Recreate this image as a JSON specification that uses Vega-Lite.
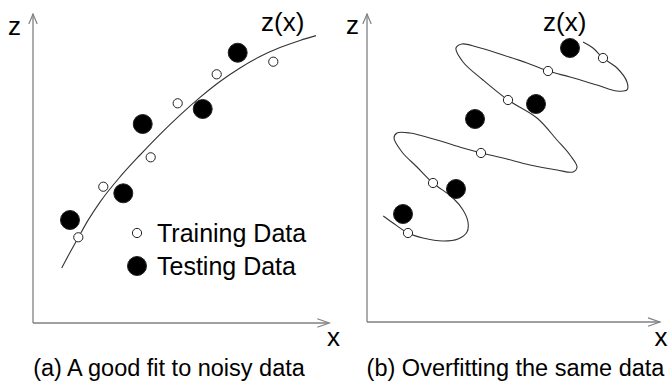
{
  "$schema": "https://vega.github.io/schema/vega-lite/v6.json",
  "background": "white",
  "padding": 0,
  "spacing": 0,
  "bounds": "flush",
  "config": {"view": {"stroke": null}},
  "datasets": {
    "axesA": [{"x": 0, "z": 0, "x2": 9.83, "z2": 0}, {"x": 0, "z": 0, "x2": 0, "z2": 10.3}],
    "arrowsA": [{"x": 9.677, "z": 0, "dir": "right"}, {"x": 0, "z": 10.133, "dir": "up"}],
    "curveA": [
      {"i": 0, "x": 0.957, "z": 1.833}, {"i": 1, "x": 1.233, "z": 2.35}, {"i": 2, "x": 1.5, "z": 2.83},
      {"i": 3, "x": 1.833, "z": 3.42}, {"i": 4, "x": 2.233, "z": 4.03}, {"i": 5, "x": 2.9, "z": 4.87},
      {"i": 6, "x": 3.567, "z": 5.6}, {"i": 7, "x": 4.233, "z": 6.29}, {"i": 8, "x": 4.9, "z": 6.93},
      {"i": 9, "x": 5.567, "z": 7.52}, {"i": 10, "x": 6.233, "z": 8.05}, {"i": 11, "x": 6.9, "z": 8.5},
      {"i": 12, "x": 7.567, "z": 8.88}, {"i": 13, "x": 8.233, "z": 9.18}, {"i": 14, "x": 8.9, "z": 9.42},
      {"i": 15, "x": 9.433, "z": 9.58}
    ],
    "pointsA": [
      {"x": 1.51, "z": 2.857, "kind": "Training Data"}, {"x": 2.343, "z": 4.543, "kind": "Training Data"},
      {"x": 3.923, "z": 5.523, "kind": "Training Data"}, {"x": 4.823, "z": 7.323, "kind": "Training Data"},
      {"x": 6.123, "z": 8.29, "kind": "Training Data"}, {"x": 8.01, "z": 8.71, "kind": "Training Data"},
      {"x": 1.233, "z": 3.433, "kind": "Testing Data"}, {"x": 3.01, "z": 4.323, "kind": "Testing Data"},
      {"x": 3.657, "z": 6.633, "kind": "Testing Data"}, {"x": 5.657, "z": 7.133, "kind": "Testing Data"},
      {"x": 6.823, "z": 9.01, "kind": "Testing Data"}
    ],
    "legendA": [
      {"x": 3.467, "z": 3.0, "kind": "Training Data"},
      {"x": 3.467, "z": 1.9, "kind": "Testing Data"}
    ],
    "labelsA": [
      {"x": -0.83, "z": 9.6, "label": "z"},
      {"x": 7.6, "z": 9.717, "label": "z(x)"},
      {"x": 9.8, "z": -0.767, "label": "x"}
    ],
    "captionA": [{"x": 4.533, "z": -1.767, "label": "(a) A good fit to noisy data"}],
    "axesB": [{"x": -0.033, "z": 0.033, "x2": 9.733, "z2": 0.033}, {"x": -0.033, "z": 0.033, "x2": -0.033, "z2": 10.3}],
    "arrowsB": [{"x": 9.533, "z": 0.033, "dir": "right"}, {"x": -0.033, "z": 10.133, "dir": "up"}],
    "curveB": [
      {"i": 0, "x": 0.51, "z": 3.567}, {"i": 1, "x": 0.833, "z": 3.333}, {"i": 2, "x": 1.333, "z": 3.0},
      {"i": 3, "x": 1.833, "z": 2.833}, {"i": 4, "x": 2.5, "z": 2.733}, {"i": 5, "x": 3.0, "z": 2.8},
      {"i": 6, "x": 3.3, "z": 3.033}, {"i": 7, "x": 3.333, "z": 3.367}, {"i": 8, "x": 3.167, "z": 3.767},
      {"i": 9, "x": 2.833, "z": 4.167}, {"i": 10, "x": 2.167, "z": 4.667}, {"i": 11, "x": 1.633, "z": 5.2},
      {"i": 12, "x": 1.133, "z": 5.7}, {"i": 13, "x": 0.867, "z": 6.167}, {"i": 14, "x": 0.967, "z": 6.333},
      {"i": 15, "x": 1.4, "z": 6.333}, {"i": 16, "x": 2.3, "z": 6.1}, {"i": 17, "x": 3.167, "z": 5.833},
      {"i": 18, "x": 3.767, "z": 5.667}, {"i": 19, "x": 4.5, "z": 5.5}, {"i": 20, "x": 5.4, "z": 5.267},
      {"i": 21, "x": 6.3, "z": 5.1}, {"i": 22, "x": 6.833, "z": 5.033}, {"i": 23, "x": 6.967, "z": 5.2},
      {"i": 24, "x": 6.733, "z": 5.6}, {"i": 25, "x": 6.3, "z": 6.1}, {"i": 26, "x": 5.633, "z": 6.833},
      {"i": 27, "x": 4.667, "z": 7.433}, {"i": 28, "x": 3.833, "z": 8.1}, {"i": 29, "x": 3.167, "z": 8.7},
      {"i": 30, "x": 2.933, "z": 9.167}, {"i": 31, "x": 3.133, "z": 9.3}, {"i": 32, "x": 3.633, "z": 9.2},
      {"i": 33, "x": 4.5, "z": 8.933}, {"i": 34, "x": 5.3, "z": 8.667}, {"i": 35, "x": 6.0, "z": 8.4},
      {"i": 36, "x": 6.733, "z": 8.2}, {"i": 37, "x": 7.633, "z": 7.933}, {"i": 38, "x": 8.3, "z": 7.733},
      {"i": 39, "x": 8.633, "z": 7.767}, {"i": 40, "x": 8.633, "z": 8.033}, {"i": 41, "x": 8.3, "z": 8.5},
      {"i": 42, "x": 7.833, "z": 8.833}, {"i": 43, "x": 7.5, "z": 9.167}, {"i": 44, "x": 7.167, "z": 9.367}
    ],
    "pointsB": [
      {"x": 1.333, "z": 3.0, "kind": "Training Data"}, {"x": 2.167, "z": 4.667, "kind": "Training Data"},
      {"x": 3.767, "z": 5.667, "kind": "Training Data"}, {"x": 4.667, "z": 7.433, "kind": "Training Data"},
      {"x": 6.0, "z": 8.4, "kind": "Training Data"}, {"x": 7.833, "z": 8.833, "kind": "Training Data"},
      {"x": 1.167, "z": 3.633, "kind": "Testing Data"}, {"x": 2.933, "z": 4.467, "kind": "Testing Data"},
      {"x": 3.567, "z": 6.8, "kind": "Testing Data"}, {"x": 5.6, "z": 7.3, "kind": "Testing Data"},
      {"x": 6.733, "z": 9.167, "kind": "Testing Data"}
    ],
    "labelsB": [
      {"x": -0.73, "z": 9.633, "label": "z"},
      {"x": 5.833, "z": 9.733, "label": "z(x)"},
      {"x": 9.55, "z": -0.767, "label": "x"}
    ],
    "captionB": [{"x": 4.917, "z": -1.767, "label": "(b) Overfitting the same data"}]
  },
  "hconcat": [
    {
      "width": 335,
      "height": 382,
      "encoding": {
        "x": {"field": "x", "type": "quantitative", "scale": {"domain": [-1.1, 10.0667], "nice": false, "zero": false}, "axis": null},
        "y": {"field": "z", "type": "quantitative", "scale": {"domain": [-1.9667, 10.7667], "nice": false, "zero": false}, "axis": null}
      },
      "layer": [
        {"data": {"name": "axesA"}, "mark": {"type": "rule", "color": "#808080", "strokeWidth": 1.3},
         "encoding": {"x2": {"field": "x2"}, "y2": {"field": "z2"}}},
        {"data": {"name": "arrowsA"}, "mark": {"type": "point", "filled": false, "color": "#808080", "strokeWidth": 1.2, "size": 144, "opacity": 1},
         "encoding": {"shape": {"field": "dir", "type": "nominal", "scale": {"domain": ["right", "up"], "range": ["M-1,-0.7L1,0L-1,0.7", "M-0.7,0.83L0,-0.83L0.7,0.83"]}, "legend": null}}},
        {"data": {"name": "curveA"}, "mark": {"type": "line", "color": "#333333", "strokeWidth": 1.1, "interpolate": "monotone"},
         "encoding": {"order": {"field": "i", "type": "quantitative"}}},
        {"data": {"name": "pointsA"}, "mark": {"type": "point", "shape": "circle", "filled": true, "stroke": "#222222", "strokeWidth": 1, "opacity": 1},
         "encoding": {
           "fill": {"field": "kind", "type": "nominal", "scale": {"domain": ["Training Data", "Testing Data"], "range": ["white", "black"]}, "legend": null},
           "size": {"field": "kind", "type": "nominal", "scale": {"domain": ["Training Data", "Testing Data"], "range": [85, 360]}, "legend": null}}},
        {"data": {"name": "legendA"}, "mark": {"type": "point", "shape": "circle", "filled": true, "stroke": "#222222", "strokeWidth": 1, "opacity": 1},
         "encoding": {
           "fill": {"field": "kind", "type": "nominal", "scale": {"domain": ["Training Data", "Testing Data"], "range": ["white", "black"]}, "legend": null},
           "size": {"field": "kind", "type": "nominal", "scale": {"domain": ["Training Data", "Testing Data"], "range": [85, 360]}, "legend": null}}},
        {"data": {"name": "legendA"}, "mark": {"type": "text", "align": "left", "baseline": "middle", "dx": 20, "dy": 1, "font": "Liberation Sans", "fontSize": 25, "color": "black"},
         "encoding": {"text": {"field": "kind"}}},
        {"data": {"name": "labelsA"}, "mark": {"type": "text", "align": "left", "baseline": "alphabetic", "font": "Liberation Sans", "fontSize": 26, "color": "black"},
         "encoding": {"text": {"field": "label"}}},
        {"data": {"name": "captionA"}, "mark": {"type": "text", "align": "center", "baseline": "alphabetic", "font": "Liberation Sans", "fontSize": 23.5, "color": "black"},
         "encoding": {"text": {"field": "label"}}}
      ]
    },
    {
      "width": 335,
      "height": 382,
      "encoding": {
        "x": {"field": "x", "type": "quantitative", "scale": {"domain": [-1.1, 10.0667], "nice": false, "zero": false}, "axis": null},
        "y": {"field": "z", "type": "quantitative", "scale": {"domain": [-1.9667, 10.7667], "nice": false, "zero": false}, "axis": null}
      },
      "layer": [
        {"data": {"name": "axesB"}, "mark": {"type": "rule", "color": "#808080", "strokeWidth": 1.3},
         "encoding": {"x2": {"field": "x2"}, "y2": {"field": "z2"}}},
        {"data": {"name": "arrowsB"}, "mark": {"type": "point", "filled": false, "color": "#808080", "strokeWidth": 1.2, "size": 144, "opacity": 1},
         "encoding": {"shape": {"field": "dir", "type": "nominal", "scale": {"domain": ["right", "up"], "range": ["M-1,-0.7L1,0L-1,0.7", "M-0.7,0.83L0,-0.83L0.7,0.83"]}, "legend": null}}},
        {"data": {"name": "curveB"}, "mark": {"type": "line", "color": "#333333", "strokeWidth": 1.1, "interpolate": "catmull-rom"},
         "encoding": {"order": {"field": "i", "type": "quantitative"}}},
        {"data": {"name": "pointsB"}, "mark": {"type": "point", "shape": "circle", "filled": true, "stroke": "#222222", "strokeWidth": 1, "opacity": 1},
         "encoding": {
           "fill": {"field": "kind", "type": "nominal", "scale": {"domain": ["Training Data", "Testing Data"], "range": ["white", "black"]}, "legend": null},
           "size": {"field": "kind", "type": "nominal", "scale": {"domain": ["Training Data", "Testing Data"], "range": [85, 360]}, "legend": null}}},
        {"data": {"name": "labelsB"}, "mark": {"type": "text", "align": "left", "baseline": "alphabetic", "font": "Liberation Sans", "fontSize": 26, "color": "black"},
         "encoding": {"text": {"field": "label"}}},
        {"data": {"name": "captionB"}, "mark": {"type": "text", "align": "center", "baseline": "alphabetic", "font": "Liberation Sans", "fontSize": 23.5, "color": "black"},
         "encoding": {"text": {"field": "label"}}}
      ]
    }
  ]
}
